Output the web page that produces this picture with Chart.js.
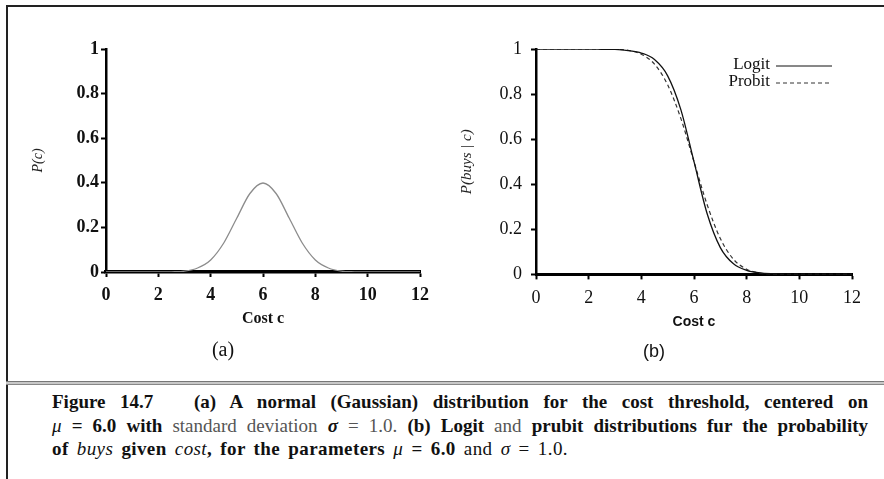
<!DOCTYPE html>
<html>
<head>
<meta charset="utf-8">
<script src="https://cdn.jsdelivr.net/npm/chart.js@4/dist/chart.umd.min.js"></script>
<style>
  html, body { margin: 0; padding: 0; background: #fff; }
  body { width: 884px; height: 479px; position: relative; overflow: hidden; }
  canvas { position: absolute; top: 0; }
  #leftCanvas { left: 0; }
  #rightCanvas { left: 440px; }
  .frameTop { position: absolute; left: 6px; top: 5px; width: 878px; height: 0; border-top: 2px solid #222; }
  .frameLeft { position: absolute; left: 6px; top: 5px; width: 0; height: 474px; border-left: 2px solid #222; }
  .rule { position: absolute; left: 6px; top: 381px; width: 878px; height: 2px; background: #c8c8c8; border-top: 1px solid #777; border-bottom: 1px solid #888; }
  .caption { position: absolute; left: 52px; top: 390px; width: 816px; font-family: "Liberation Serif", serif; font-size: 19px; line-height: 23.5px; color: #111; }
  .caption div { white-space: nowrap; }
  .caption .j { text-align: justify; text-align-last: justify; white-space: normal; }
  .caption .last { letter-spacing: 0.4px; word-spacing: 3px; }
  .gap { display: inline-block; width: 26px; }
  .b { font-weight: bold; }
  .lt { color: #555; }
</style>
</head>
<body>
<div class="frameTop"></div>
<div class="frameLeft"></div>
<canvas id="leftCanvas" width="440" height="375"></canvas>
<canvas id="rightCanvas" width="444" height="375"></canvas>
<div class="rule"></div>
<div class="caption">
  <div class="j"><span class="b">Figure 14.7</span><span class="gap"></span> <span class="b">(a) A normal (Gaussian) distribution for the cost threshold, centered on</span></div>
  <div class="j"><i>μ</i> <span class="b">= 6.0 with</span> <span class="lt">standard deviation</span> <b><i>σ</i></b> <span class="lt">= 1.0.</span> <span class="b">(b) Logit</span> <span class="lt">and</span> <span class="b">prubit distributions fur the probability</span></div>
  <div class="last"><span class="b">of</span> <i>buys</i> <span class="b">given</span> <i>cost</i><span class="b">, for the parameters</span> <i>μ</i> <span class="b">= 6.0</span> and <i>σ</i> = 1.0.</div>
</div>
<script>
// values, x = cost from 0 to 12 in steps of 0.5
const costValues = [0, 0.5, 1, 1.5, 2, 2.5, 3, 3.5, 4, 4.5, 5, 5.5, 6, 6.5, 7, 7.5, 8, 8.5, 9, 9.5, 10, 10.5, 11, 11.5, 12];
const normalP = [0, 0, 0, 0, 0, 0.001, 0.004, 0.018, 0.054, 0.130, 0.242, 0.352, 0.399, 0.352, 0.242, 0.130, 0.054, 0.018, 0.004, 0.001, 0, 0, 0, 0, 0];
const logitP = [1, 1, 1, 1, 1, 0.999, 0.998, 0.993, 0.982, 0.953, 0.881, 0.731, 0.5, 0.269, 0.119, 0.047, 0.018, 0.007, 0.003, 0.001, 0, 0, 0, 0, 0];
const probitP = [1, 1, 1, 1, 1, 1, 0.999, 0.994, 0.977, 0.933, 0.841, 0.692, 0.5, 0.309, 0.159, 0.067, 0.023, 0.006, 0.001, 0, 0, 0, 0, 0, 0];
const xTickValues = [0, 2, 4, 6, 8, 10, 12];
const yTickValues = [0, 0.2, 0.4, 0.6, 0.8, 1];
const seriesNames = ["Logit", "Probit"];

const serif = "'Liberation Serif', 'Times New Roman', serif";
const sans = "'Liberation Sans', Arial, sans-serif";

function toPoints(ys) {
  return costValues.map((x, i) => ({ x: x, y: ys[i] }));
}

// "0", "0.2" ... "1" like the book, not "1.0"
const plainLabel = (v) => String(Math.round(v * 10) / 10);

function makeScales(opts) {
  return {
    x: {
      type: "linear", min: 0, max: 12,
      afterBuildTicks: (s) => { s.ticks = xTickValues.map(v => ({ value: v })); },
      afterFit: (s) => { s.height = 62; },
      border: { display: true, color: "#000", width: opts.xBorder },
      grid: { drawOnChartArea: false, drawTicks: true, tickLength: 5, tickColor: "#000", tickWidth: 2 },
      ticks: { color: "#111", padding: 8, maxRotation: 0, callback: plainLabel, font: { family: serif, size: 18, weight: opts.tickWeight } },
      title: { display: true, text: "Cost c", color: "#111", padding: { top: 0, bottom: 6 }, font: opts.xTitleFont }
    },
    y: {
      type: "linear", min: 0, max: 1,
      afterBuildTicks: (s) => { s.ticks = yTickValues.map(v => ({ value: v })); },
      afterFit: (s) => { s.width = 80; },
      border: { display: true, color: "#000", width: 2.5 },
      grid: { drawOnChartArea: false, drawTicks: true, tickLength: 5, tickColor: "#000", tickWidth: 2 },
      ticks: { color: "#111", padding: opts.yTickPad, callback: plainLabel, font: { family: serif, size: 18, weight: opts.tickWeight } },
      title: { display: true, text: opts.yTitle, color: "#222", padding: { top: opts.yTitlePad, bottom: 0 }, font: { family: serif, size: opts.yTitleSize, style: "italic" } }
    }
  };
}

// legend drawn inside the plot area, text first then the line sample
const insideLegend = {
  id: "insideLegend",
  afterDraw(chart) {
    const ctx = chart.ctx;
    const area = chart.chartArea;
    const lineEnd = area.right - 20;
    const lineStart = lineEnd - 56;
    ctx.save();
    ctx.font = "17px " + serif;
    ctx.textAlign = "right";
    ctx.textBaseline = "middle";
    chart.data.datasets.forEach((ds, i) => {
      const y = area.top + 16 + i * 17;
      ctx.fillStyle = "#111";
      ctx.fillText(ds.label, lineStart - 6, y);
      ctx.strokeStyle = ds.borderColor;
      ctx.lineWidth = 1;
      ctx.setLineDash(ds.borderDash || []);
      ctx.beginPath();
      ctx.moveTo(lineStart, y + 1);
      ctx.lineTo(lineEnd, y + 1);
      ctx.stroke();
    });
    ctx.restore();
  }
};

const leftChart = new Chart(document.getElementById("leftCanvas").getContext("2d"), {
  type: "line",
  data: {
    datasets: [{
      label: "P(c)",
      data: toPoints(normalP),
      borderColor: "#8c8c8c",
      borderWidth: 1.3,
      pointRadius: 0,
      fill: false,
      cubicInterpolationMode: "monotone"
    }]
  },
  options: {
    responsive: false,
    animation: false,
    layout: { padding: { left: 26, right: 20, top: 49, bottom: 0 } },
    scales: makeScales({
      xBorder: 3.5, tickWeight: "bold", yTickPad: 2, yTitle: "P(c)", yTitleSize: 14, yTitlePad: 4,
      xTitleFont: { family: serif, size: 16, weight: "bold" }
    }),
    plugins: {
      legend: { display: false },
      tooltip: { enabled: false },
      title: { display: true, position: "bottom", text: "(a)", color: "#111", padding: { top: 5, bottom: 12 }, font: { family: serif, size: 20, weight: "normal" } }
    }
  }
});

const rightChart = new Chart(document.getElementById("rightCanvas").getContext("2d"), {
  type: "line",
  data: {
    datasets: [{
      label: seriesNames[0],
      data: toPoints(logitP),
      borderColor: "#111",
      borderWidth: 1.3,
      pointRadius: 0,
      fill: false,
      cubicInterpolationMode: "monotone"
    }, {
      label: seriesNames[1],
      data: toPoints(probitP),
      borderColor: "#333",
      borderWidth: 1.2,
      borderDash: [4, 3],
      pointRadius: 0,
      fill: false,
      cubicInterpolationMode: "monotone"
    }]
  },
  options: {
    responsive: false,
    animation: false,
    layout: { padding: { left: 16, right: 32, top: 49, bottom: 0 } },
    scales: makeScales({
      xBorder: 3, tickWeight: "normal", yTickPad: 9, yTitle: "P(buys | c)", yTitleSize: 15, yTitlePad: 2,
      xTitleFont: { family: sans, size: 14, weight: "bold" }
    }),
    plugins: {
      legend: { display: false },
      tooltip: { enabled: false },
      title: { display: true, position: "bottom", text: "(b)", color: "#111", padding: { top: 5, bottom: 12 }, font: { family: sans, size: 18, weight: "normal" } }
    }
  },
  plugins: [insideLegend]
});
</script>
</body>
</html>
